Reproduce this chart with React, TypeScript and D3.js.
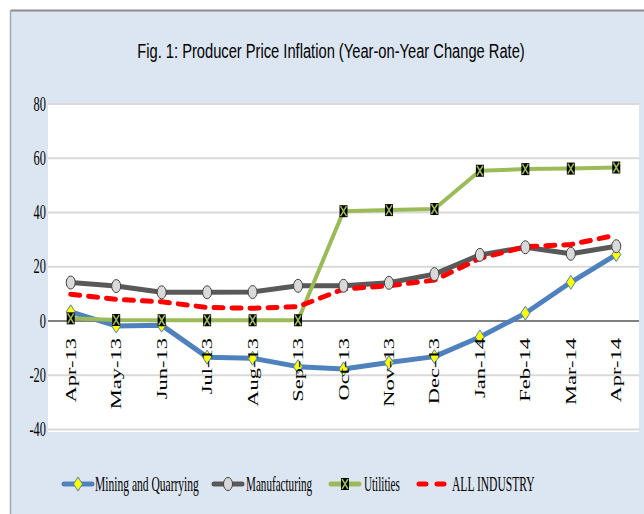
import React from 'react';
import * as d3 from 'd3';

const months = ['Apr-13', 'May-13', 'Jun-13', 'Jul-13', 'Aug-13', 'Sep-13', 'Oct-13', 'Nov-13', 'Dec-13', 'Jan-14', 'Feb-14', 'Mar-14', 'Apr-14'];
const mining = [3.4, -1.8, -1.5, -13.3, -13.7, -16.8, -17.7, -15.3, -13.1, -5.9, 2.9, 14.3, 24.5];
const manufacturing = [14.2, 12.9, 10.6, 10.6, 10.7, 13.0, 13.0, 14.1, 17.3, 24.4, 27.2, 24.8, 27.6];
const utilities = [1.0, 0.4, 0.3, 0.3, 0.3, 0.3, 40.5, 40.9, 41.3, 55.4, 56.0, 56.2, 56.6];
const allIndustry = [9.9, 8.0, 7.1, 5.0, 4.7, 5.3, 11.8, 13.0, 15.1, 23.1, 27.4, 28.2, 31.7];
const yTicks = [-40, -20, 0, 20, 40, 60, 80];

const W = 644, H = 514;
const plot = { left: 48, right: 639, top: 104, bottom: 429.6 };

function Diamond({ x, y }: { x: number; y: number }) {
  return <path d={`M${x},${y - 7}L${x + 4.5},${y}L${x},${y + 7}L${x - 4.5},${y}Z`} fill="#ffff00" stroke="#4f81bd" strokeWidth={1} />;
}
function Oval({ x, y }: { x: number; y: number }) {
  return <ellipse cx={x} cy={y} rx={4.5} ry={6.5} fill="#d9d9d9" stroke="#404040" strokeWidth={1} />;
}
function XBox({ x, y }: { x: number; y: number }) {
  return (
    <g>
      <rect x={x - 4} y={y - 6} width={8} height={12} fill="#000" />
      <path d={`M${x - 3},${y - 5}L${x + 3},${y + 5}M${x + 3},${y - 5}L${x - 3},${y + 5}`} stroke="#9bbb59" strokeWidth={1.5} />
    </g>
  );
}

export default function App() {
  const x = d3.scaleBand<string>().domain(months).range([plot.left, plot.right]);
  const y = d3.scaleLinear().domain([-40, 80]).range([plot.bottom, plot.top]);
  const cx = (m: string) => (x(m) as number) + x.bandwidth() / 2;
  const line = d3.line<number>().x((_, i) => cx(months[i])).y(d => y(d));

  const legendY = 484;
  const legendFont = { fontFamily: 'Liberation Serif', fontSize: 21, fill: '#000' };
  return (
    <svg width={W} height={H} style={{ position: 'absolute', left: 0, top: 0 }}>
      <rect x={0} y={0} width={W} height={H} fill="#fff" />
      <rect x={11} y={11} width={W - 11} height={H - 11} fill="#dce6f2" />
      <line x1={10.5} y1={10.5} x2={W} y2={10.5} stroke="#8c8c8c" strokeWidth={2} />
      <line x1={10.5} y1={10.5} x2={10.5} y2={H} stroke="#a6a6a6" strokeWidth={1.5} />
      <g transform="translate(331,58) scale(0.7,1)">
        <text textAnchor="middle" fontFamily="Liberation Sans" fontSize={21} fill="#000">Fig. 1: Producer Price Inflation (Year-on-Year Change Rate)</text>
      </g>

      <rect x={plot.left} y={plot.top} width={plot.right - plot.left} height={432 - plot.top} fill="#fff" />
      {yTicks.map(t => (
        <g key={t}>
          <line x1={plot.left} x2={plot.right} y1={y(t)} y2={y(t)} stroke={t === 0 ? '#808080' : '#d9d9d9'} strokeWidth={2} />
          <g transform={`translate(46,${y(t) + 6.5}) scale(0.62,1)`}>
            <text textAnchor="end" fontFamily="Liberation Serif" fontSize={20} fill="#000">{t}</text>
          </g>
        </g>
      ))}

      <path d={line(mining) || ''} fill="none" stroke="#4f81bd" strokeWidth={5} strokeLinejoin="round" />
      <path d={line(manufacturing) || ''} fill="none" stroke="#595959" strokeWidth={5} strokeLinejoin="round" />
      <path d={line(utilities) || ''} fill="none" stroke="#9bbb59" strokeWidth={4} strokeLinejoin="round" />
      <path d={line(allIndustry) || ''} fill="none" stroke="#ff0000" strokeWidth={5} strokeDasharray="9 9" strokeLinecap="round" />

      {mining.map((v, i) => <Diamond key={'q' + i} x={cx(months[i])} y={y(v)} />)}
      {manufacturing.map((v, i) => <Oval key={'m' + i} x={cx(months[i])} y={y(v)} />)}
      {utilities.map((v, i) => <XBox key={'u' + i} x={cx(months[i])} y={y(v)} />)}

      {months.map(m => (
        <g key={m} transform={`translate(${cx(m) + 5},${y(0) + 17}) rotate(-90) scale(1.5,1)`}>
          <text textAnchor="end" fontFamily="Liberation Serif" fontSize={15} fill="#000">{m}</text>
        </g>
      ))}

      {/* legend */}
      <line x1={64} x2={92} y1={legendY} y2={legendY} stroke="#4f81bd" strokeWidth={5} strokeLinecap="round" />
      <Diamond x={78} y={legendY} />
      <g transform={`translate(95,${legendY + 7}) scale(0.55,1)`}>
        <text {...legendFont}>Mining and Quarrying</text>
      </g>
      <line x1={214} x2={242} y1={legendY} y2={legendY} stroke="#595959" strokeWidth={5} strokeLinecap="round" />
      <Oval x={228} y={legendY} />
      <g transform={`translate(246,${legendY + 7}) scale(0.53,1)`}>
        <text {...legendFont}>Manufacturing</text>
      </g>
      <line x1={331} x2={359} y1={legendY} y2={legendY} stroke="#9bbb59" strokeWidth={5} strokeLinecap="round" />
      <XBox x={345} y={legendY} />
      <g transform={`translate(364,${legendY + 7}) scale(0.53,1)`}>
        <text {...legendFont}>Utilities</text>
      </g>
      <line x1={419} x2={446} y1={legendY} y2={legendY} stroke="#ff0000" strokeWidth={5} strokeDasharray="7 11" strokeLinecap="round" />
      <g transform={`translate(452,${legendY + 7}) scale(0.55,1)`}>
        <text {...legendFont}>ALL INDUSTRY</text>
      </g>
    </svg>
  );
}
